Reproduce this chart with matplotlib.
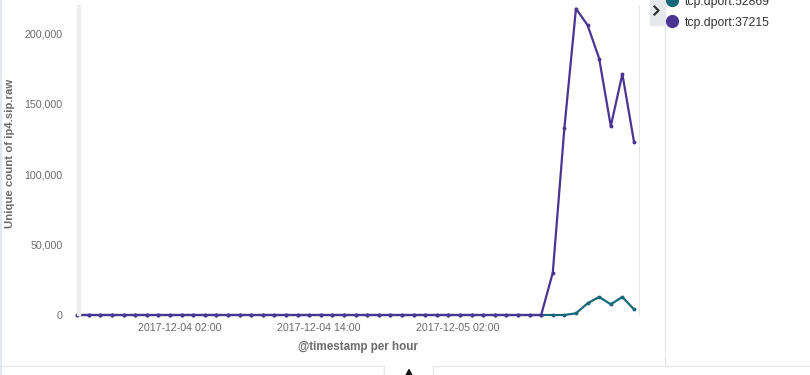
import matplotlib
matplotlib.use("Agg")
import matplotlib.pyplot as plt
from matplotlib.lines import Line2D
from matplotlib.patches import Rectangle, Polygon
import pandas as pd

# ---- data ----
timestamps = pd.date_range("2017-12-03 17:12", periods=49, freq="h")
series_names = ["tcp.dport:52869", "tcp.dport:37215"]
values_52869 = [0] * 43 + [1200, 8300, 12800, 7600, 12800, 4000]
values_37215 = [0] * 41 + [30000, 132600, 217500, 205700, 182000, 134000, 171000, 123000]
colors = ["#17687a", "#4b3593"]
y_ticks = [0, 50000, 100000, 150000, 200000]
x_tick_labels = ["2017-12-04 02:00", "2017-12-04 14:00", "2017-12-05 02:00"]
y_title = "Unique count of ip4.sip.raw"
x_title = "@timestamp per hour"

W, H = 810, 375
plt.rcParams["font.family"] = ["Liberation Sans", "DejaVu Sans"]
fig = plt.figure(figsize=(W / 100, H / 100), dpi=100)

def fx(x):
    return x / W

def fy(y):
    return 1 - y / H

L, R, T, B = 77, 639, 5, 315
ax = fig.add_axes([fx(L), fy(B), (R - L) / W, (B - T) / H])

for vals, c in zip([values_52869, values_37215], colors):
    ax.plot(timestamps, vals, color=c, lw=1.6, marker="o", ms=2.8,
            markeredgewidth=0, clip_on=False, solid_joinstyle="round")

ax.set_ylim(0, 220000)
t0 = timestamps[0]
ax.set_xlim(t0 - pd.Timedelta(minutes=1), timestamps[-1] + pd.Timedelta(minutes=26))
ax.set_yticks(y_ticks)
ax.set_yticklabels([f"{v:,}" for v in y_ticks])
ax.set_xticks([pd.Timestamp(s) for s in x_tick_labels])
ax.set_xticklabels(x_tick_labels)
ax.tick_params(axis="y", length=0, pad=10.5, labelsize=7.7, labelcolor="#6b6b6b")
ax.tick_params(axis="x", length=0, pad=5.5, labelsize=7.7, labelcolor="#6b6b6b")

for s in ["top", "bottom", "left"]:
    ax.spines[s].set_visible(False)
ax.spines["right"].set_color("#e6e6e6")
ax.spines["right"].set_linewidth(0.8)

# axis titles
fig.text(fx(10), fy(153), y_title, rotation=90, ha="center", va="center",
         fontsize=8.2, fontweight="bold", color="#6b6b6b")
fig.text(fx(358), fy(347), x_title, ha="center", va="center",
         fontsize=8.4, fontweight="bold", color="#6b6b6b")

# y-axis light bar
fig.patches.append(Rectangle((fx(76.5), fy(315)), 3.5 / W, 310 / H,
                             transform=fig.transFigure, color="#eeeeee", zorder=0))

# legend
handles = [Line2D([], [], marker="o", ls="none", color=c, ms=8.5) for c in colors]
fig.legend(handles, series_names, loc="upper left", bbox_to_anchor=(fx(666), fy(-4.5)),
           frameon=False, fontsize=8.8, labelcolor="#333333", handletextpad=0.55,
           labelspacing=0.75, handlelength=1.0, borderaxespad=0, borderpad=0)

# legend toggle button
fig.patches.append(Rectangle((fx(650), fy(25)), 15 / W, 25 / H,
                             transform=fig.transFigure, color="#e6e8eb", zorder=0))
fig.add_artist(Line2D([fx(654.5), fx(658.5), fx(654.5)], [fy(6.5), fy(10.5), fy(14.5)],
                      transform=fig.transFigure, color="#333333", lw=1.6))

# panel borders
lc = "#e6e9ec"
def line(x0, y0, x1, y1, lw=1.0, c=lc):
    fig.add_artist(Line2D([fx(x0), fx(x1)], [fy(y0), fy(y1)], transform=fig.transFigure,
                          color=c, lw=lw))
line(1, 0, 1, 375, lw=1.5, c="#e4e8ee")
line(665, 25, 665, 352)
line(665, 356, 665, 366)
line(2, 366, 384, 366)
line(384, 366, 384, 375)
line(433, 366, 433, 375)
line(433, 366, 810, 366)
fig.patches.append(Polygon([(fx(406), fy(375.5)), (fx(409), fy(369.5)), (fx(412), fy(375.5))],
                           closed=True, transform=fig.transFigure, color="#111111"))

fig.savefig("out.png", dpi=100)
